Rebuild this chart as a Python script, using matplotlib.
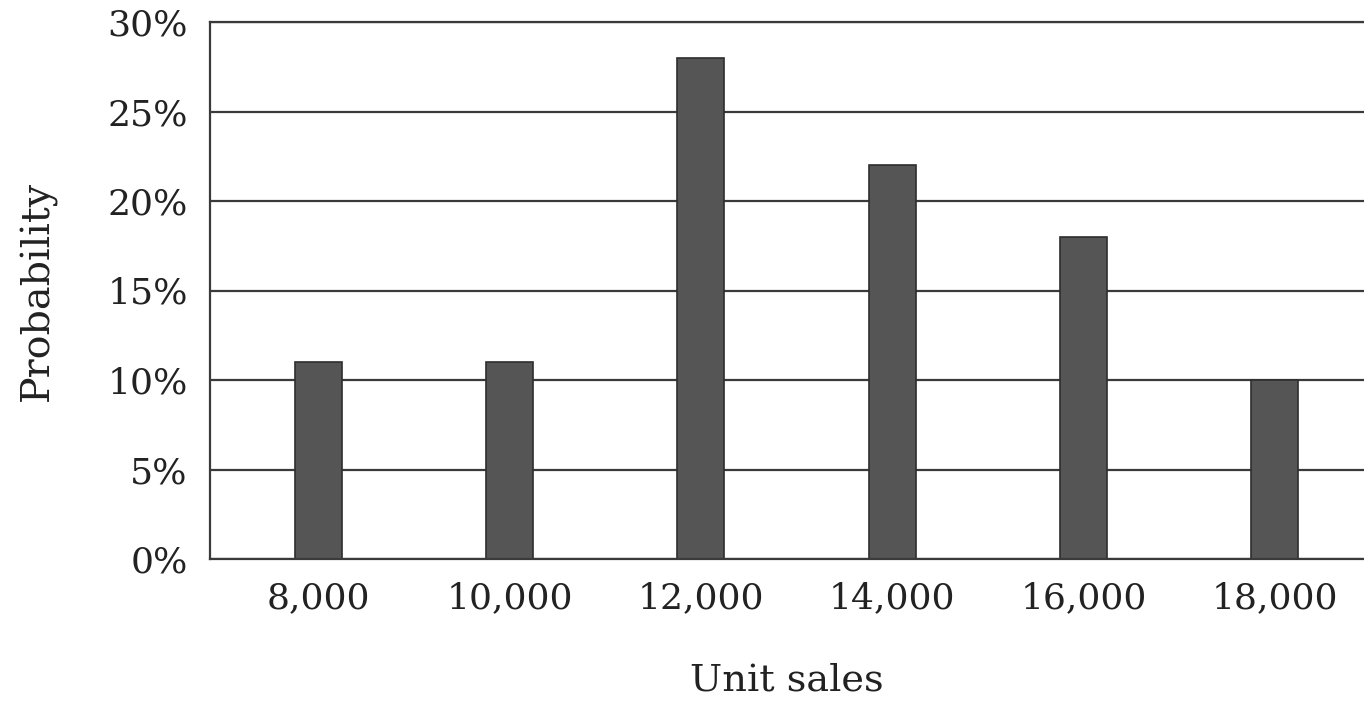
import matplotlib
matplotlib.use("Agg")
import matplotlib.pyplot as plt
from matplotlib.ticker import FuncFormatter

# Probability distribution of unit sales
unit_sales = [8000, 10000, 12000, 14000, 16000, 18000]
probability = [11, 11, 28, 22, 18, 10]  # percent
y_ticks = [0, 5, 10, 15, 20, 25, 30]

plt.rcParams["font.family"] = ["DejaVu Serif"]

fig = plt.figure(figsize=(13.64, 7.03), dpi=100)
ax = fig.add_axes([210 / 1364, 1 - 559 / 703, 1 - 210 / 1364, (559 - 22) / 703])

line_color = "#3a3a3a"
ax.set_axisbelow(True)
ax.yaxis.grid(True, color=line_color, linewidth=1.6)
ax.bar(unit_sales, probability, width=490, color="#555555",
       edgecolor="#2e2e2e", linewidth=1.2, zorder=3)

ax.set_xlim(6865, 18936)
ax.set_ylim(0, 30)
ax.set_xticks(unit_sales)
ax.set_yticks(y_ticks)
ax.xaxis.set_major_formatter(FuncFormatter(lambda v, p: f"{int(v):,}"))
ax.yaxis.set_major_formatter(FuncFormatter(lambda v, p: f"{int(v)}%"))

ax.spines["right"].set_visible(False)
for side in ("left", "bottom", "top"):
    ax.spines[side].set_color(line_color)
    ax.spines[side].set_linewidth(1.6)
    ax.spines[side].set_zorder(4)

ax.tick_params(axis="both", length=0, labelsize=26, colors="#222222")
ax.tick_params(axis="x", pad=16)
ax.tick_params(axis="y", pad=16)

ax.set_xlabel("Unit sales", fontsize=27.5, color="#222222", labelpad=34)
ax.set_ylabel("Probability", fontsize=28.5, color="#222222", labelpad=36)

fig.savefig("out.png", dpi=100, facecolor="white")
